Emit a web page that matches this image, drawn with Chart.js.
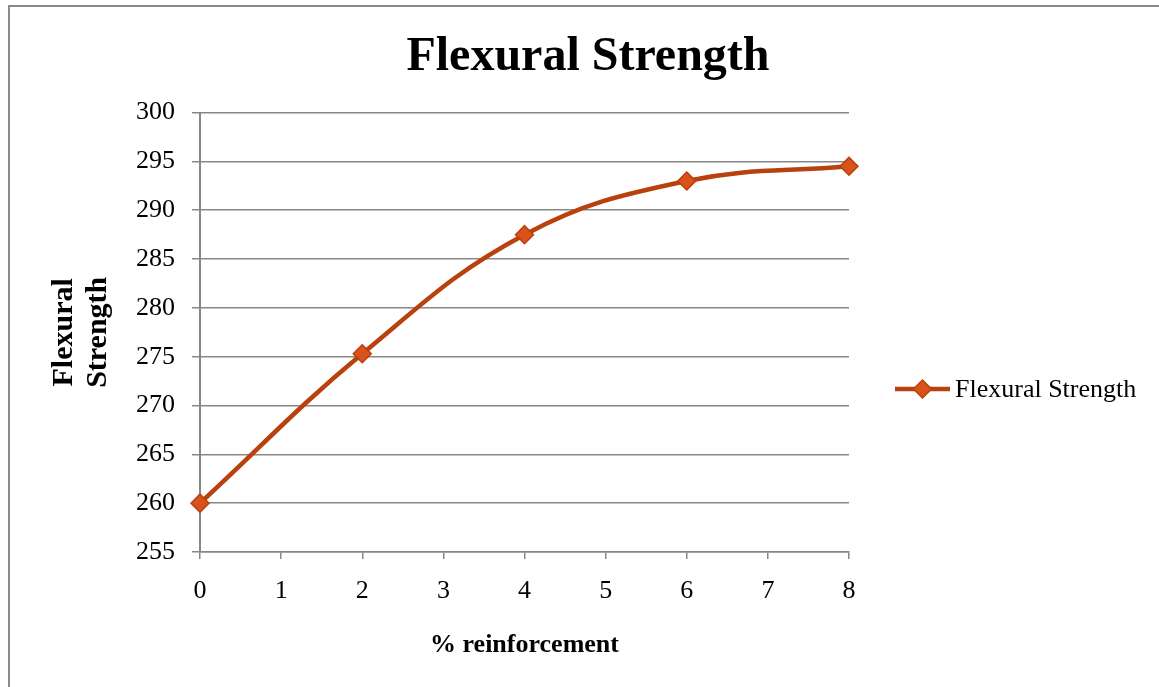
<!DOCTYPE html>
<html>
<head>
<meta charset="utf-8">
<title>Flexural Strength</title>
<script src="https://cdn.jsdelivr.net/npm/chart.js@4.4.1/dist/chart.umd.min.js"></script>
<style>
  html, body { margin: 0; padding: 0; background: #ffffff; }
  #wrap { position: relative; width: 1159px; height: 687px; }
  canvas { display: block; }
</style>
</head>
<body>
<div id="wrap"><canvas id="chart" width="1159" height="687"></canvas></div>
<script>
// Flexural strength against percentage of reinforcement
const reinforcement = [0, 2, 4, 6, 8];
const flexuralStrength = [260, 275.3, 287.5, 293, 294.5];
const xTickValues = [0, 1, 2, 3, 4, 5, 6, 7, 8];
const yTickValues = [255, 260, 265, 270, 275, 280, 285, 290, 295, 300];

const seriesName = 'Flexural Strength';
const chartTitle = 'Flexural Strength';
const xTitle = '% reinforcement';
const yTitle = ['Flexural', 'Strength'];

const SERIF = '"Liberation Serif", "Times New Roman", Times, serif';
const GRID = '#878787';
const LINE = '#B8410E';
const MARKER = '#D9521C';

// Thin grey frame along the left and top edges of the chart
const framePlugin = {
  id: 'frame',
  beforeDraw(chart) {
    const ctx = chart.ctx;
    ctx.save();
    ctx.strokeStyle = '#8a8a8a';
    ctx.lineWidth = 2;
    ctx.beginPath();
    ctx.moveTo(9, chart.height);
    ctx.lineTo(9, 6);
    ctx.lineTo(chart.width, 6);
    ctx.stroke();
    ctx.restore();
  }
};

// Legend entry to the right of the plot, styled from the dataset
const sideLegend = {
  id: 'sideLegend',
  afterDraw(chart) {
    const ds = chart.data.datasets[0];
    const area = chart.chartArea;
    const ctx = chart.ctx;
    const x0 = area.right + 46;
    const x1 = x0 + 55;
    const y = 389;
    ctx.save();
    ctx.strokeStyle = ds.borderColor;
    ctx.lineWidth = ds.borderWidth;
    ctx.lineCap = 'butt';
    ctx.beginPath();
    ctx.moveTo(x0, y);
    ctx.lineTo(x1, y);
    ctx.stroke();
    ctx.fillStyle = ds.pointBackgroundColor;
    ctx.strokeStyle = ds.pointBorderColor;
    ctx.lineWidth = ds.pointBorderWidth;
    Chart.helpers.drawPoint(ctx, { pointStyle: 'rectRot', radius: ds.pointRadius, borderWidth: ds.pointBorderWidth }, (x0 + x1) / 2, y);
    ctx.fillStyle = '#000000';
    ctx.font = '26px ' + SERIF;
    ctx.textAlign = 'left';
    ctx.textBaseline = 'middle';
    ctx.fillText(ds.label, x1 + 5, y + 1);
    ctx.restore();
  }
};

new Chart(document.getElementById('chart'), {
  type: 'line',
  data: {
    datasets: [{
      label: seriesName,
      data: reinforcement.map((x, i) => ({ x: x, y: flexuralStrength[i] })),
      borderColor: LINE,
      borderWidth: 4.5,
      tension: 0.4,
      pointStyle: 'rectRot',
      pointRadius: 9,
      pointHoverRadius: 9,
      pointBackgroundColor: MARKER,
      pointBorderColor: LINE,
      pointBorderWidth: 1.5,
      clip: false,
      xAxisID: 'x',
      yAxisID: 'y'
    }]
  },
  options: {
    responsive: false,
    animation: false,
    devicePixelRatio: 1,
    layout: { padding: { left: 17, right: 0, top: 0, bottom: 0 } },
    plugins: {
      legend: { display: false },
      tooltip: { enabled: false },
      title: {
        display: true,
        text: chartTitle,
        color: '#000000',
        font: { family: SERIF, size: 48, weight: 'bold', lineHeight: 1.2 },
        padding: { top: 29, bottom: 26 }
      }
    },
    scales: {
      x: {
        type: 'linear',
        position: 'bottom',
        min: 0,
        max: 8,
        afterBuildTicks: s => { s.ticks = xTickValues.map(v => ({ value: v })); },
        afterFit: s => { s.height = 135; },
        grid: { drawOnChartArea: false, drawTicks: true, tickLength: 7, color: GRID, lineWidth: 1.5 },
        border: { display: true, color: GRID, width: 1.5 },
        ticks: { color: '#000000', padding: 17, font: { family: SERIF, size: 26 } },
        title: {
          display: true,
          text: xTitle,
          color: '#000000',
          font: { family: SERIF, size: 26, weight: 'bold', lineHeight: 1.2 },
          padding: { top: 0, bottom: 26 }
        }
      },
      y: {
        type: 'linear',
        position: 'left',
        min: 255,
        max: 300,
        afterBuildTicks: s => { s.ticks = yTickValues.map(v => ({ value: v })); },
        afterFit: s => { s.width = 183; },
        grid: { drawOnChartArea: true, drawTicks: true, tickLength: 8, color: GRID, lineWidth: 1.5 },
        border: { display: true, color: GRID, width: 2 },
        ticks: { color: '#000000', padding: 17, font: { family: SERIF, size: 26 } },
        title: {
          display: true,
          text: yTitle,
          color: '#000000',
          font: { family: SERIF, size: 30, weight: 'bold', lineHeight: 1.14 },
          padding: { top: 30, bottom: 0 }
        }
      },
      legendSpace: {
        type: 'linear',
        position: 'right',
        display: true,
        afterFit: s => { s.width = 310; },
        grid: { display: false },
        border: { display: false },
        ticks: { display: false }
      }
    }
  },
  plugins: [framePlugin, sideLegend]
});
</script>
</body>
</html>
